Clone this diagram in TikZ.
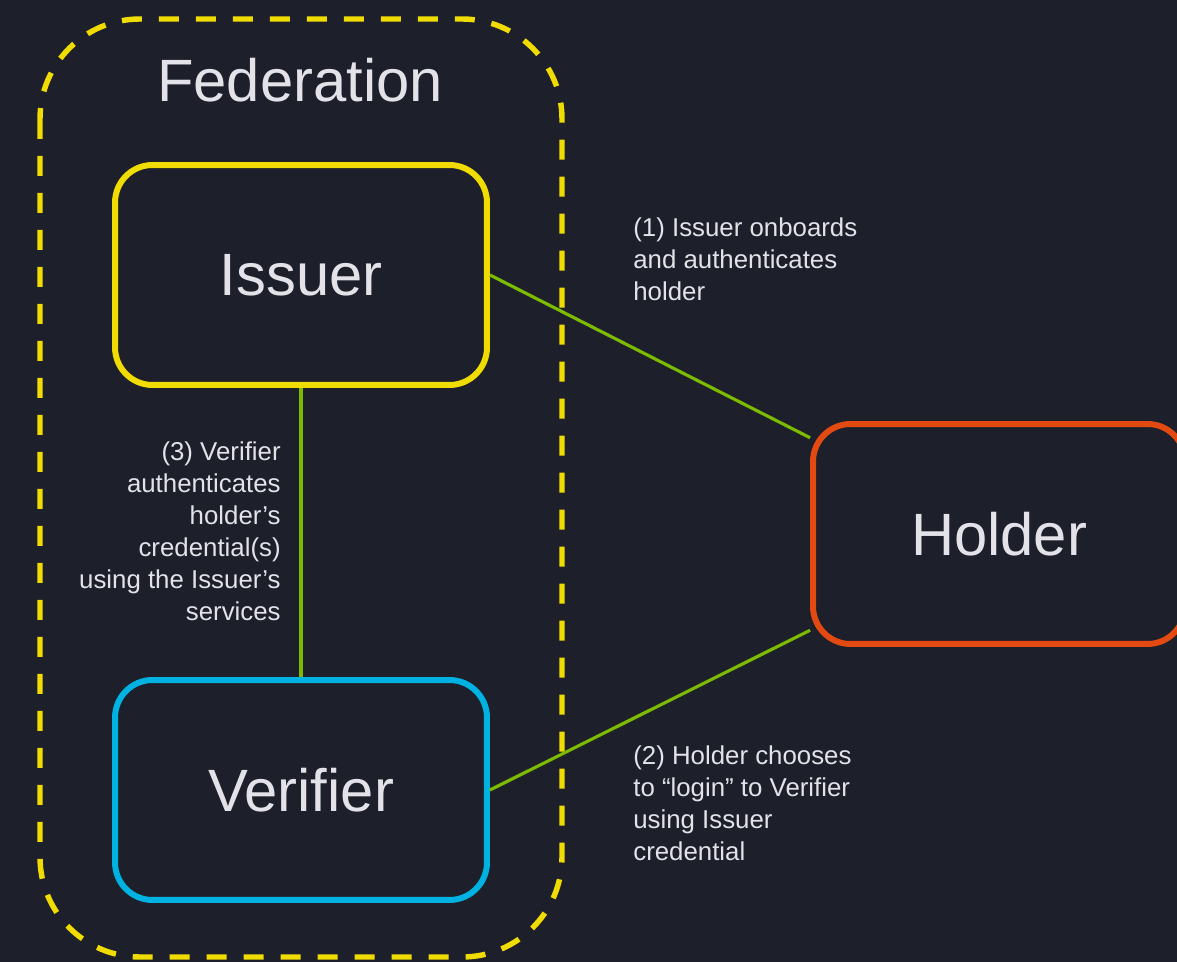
\documentclass[tikz,border=0pt]{standalone}
\usepackage{fontspec}
\setmainfont{Liberation Sans}
\definecolor{fundo}{HTML}{1D1F2A}
\definecolor{amarelo}{HTML}{F0DC00}
\definecolor{laranja}{HTML}{E24A12}
\definecolor{ciano}{HTML}{00B2E2}
\definecolor{verde}{HTML}{7DBB00}
\definecolor{texto}{HTML}{E2E2E8}

\begin{document}
\begin{tikzpicture}[x=0.02cm, y=-0.02cm, %Escala em pixels
	caixa/.style={draw=#1, line width=3.4pt, rounded corners=0.75cm, minimum width=7.44cm, minimum height=4.4cm, text=texto, font=\fontsize{34}{40}\selectfont},
	ligacao/.style={verde, line width=1.8pt},
	legenda/.style={text=texto, font=\fontsize{14.7}{18.3}\selectfont, inner sep=0pt}]
		%Fundo
	\fill[fundo] (0,0) rectangle (1177,962);
	\clip (0,0) rectangle (1177,962);
		%Federacao
	\draw[amarelo, line width=3.1pt, rounded corners=2cm, dash pattern=on 0.4cm off 0.34cm] (40,19) rectangle (562,957); %Contorno tracejado
	\node[text=texto, font=\fontsize{34}{40}\selectfont] (federation) at (300,80) {Federation};
		%Caixas
	\node[caixa=amarelo] (issuer) at (301,275) {Issuer};
	\node[caixa=ciano] (verifier) at (301,790) {Verifier};
	\node[caixa=laranja] (holder) at (999,534) {Holder};
		%Ligacoes
	\draw[ligacao] (issuer.east) -- (holder.153); %Passo 1
	\draw[ligacao] (holder.207) -- (verifier.east); %Passo 2
	\draw[ligacao] (issuer.south) -- (verifier.north); %Passo 3
		%Legendas
	\node[legenda, anchor=north west, align=left] (passo1) at (633,217) {(1) Issuer onboards\\and authenticates\\holder};
	\node[legenda, anchor=north west, align=left] (passo2) at (633,745) {(2) Holder chooses\\to “login” to Verifier\\using Issuer\\credential};
	\node[legenda, anchor=north east, align=right] (passo3) at (281,441) {(3) Verifier\\authenticates\\holder’s\\credential(s)\\using the Issuer’s\\services};
\end{tikzpicture}
\end{document}
